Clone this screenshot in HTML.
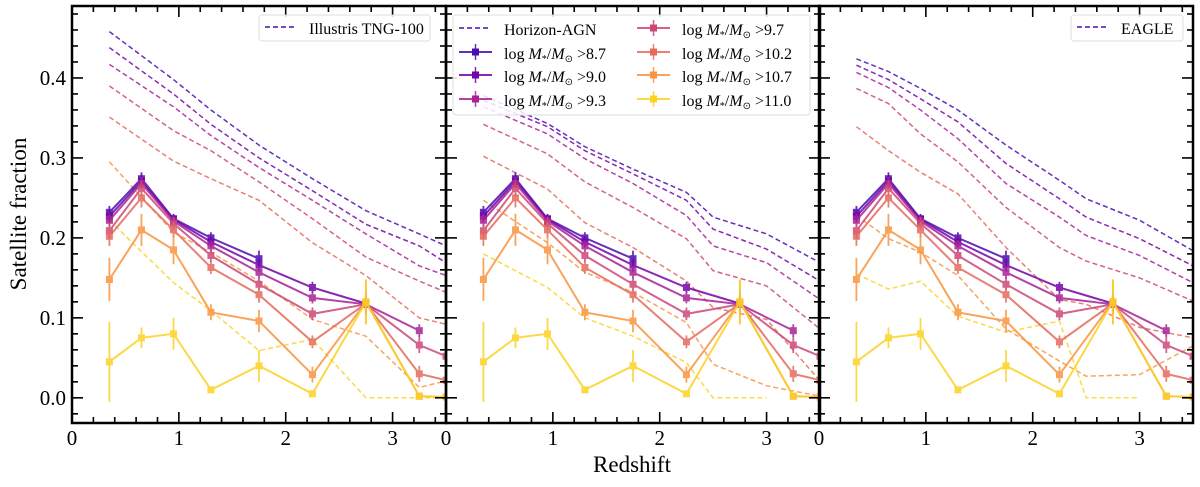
<!DOCTYPE html>
<html><head><meta charset="utf-8">
<style>
body{margin:0;background:#fff;}
svg text{font-family:"Liberation Serif",serif;fill:#000;}
</style></head>
<body>
<svg id="chart" width="1200" height="482" xmlns="http://www.w3.org/2000/svg"></svg>
<script>
// ---------- data ----------
const obsX = [0.35, 0.65, 0.95, 1.3, 1.75, 2.25, 2.75, 3.25, 3.5];
const massLabels = ["8.7","9.0","9.3","9.7","10.2","10.7","11.0"];
const obs87  = [0.232,0.274,0.224,0.200,0.174];
const obs90  = [0.227,0.271,0.223,0.195,0.166,0.138,0.118];
const obs93  = [0.222,0.268,0.221,0.190,0.157,0.125,0.117,0.084];
const obs97  = [0.209,0.262,0.218,0.178,0.142,0.105,0.117,0.066,0.052];
const obs102 = [0.202,0.250,0.210,0.163,0.129,0.070,0.118,0.030,0.022];
const obs107 = [0.148,0.210,0.185,0.107,0.096,0.029,0.120,0.002,0.001];
const obs110 = [0.045,0.075,0.080,0.010,0.040,0.005,0.120,0.002,0.001];
const err87  = [0.008,0.008,0.006,0.007,0.010];
const err90  = [0.008,0.008,0.006,0.007,0.008,0.007,0.010];
const err93  = [0.008,0.008,0.006,0.007,0.008,0.007,0.010,0.008];
const err97  = [0.010,0.010,0.008,0.008,0.008,0.008,0.012,0.010,0];
const err102 = [0.012,0.012,0.010,0.008,0.010,0.008,0.015,0.010,0];
const err107 = [0.027,0.020,0.018,0.010,0.014,0.010,0.028,0.004,0];
const err110 = [0.050,0.013,0.020,0.004,0.020,0.004,0.028,0.004,0];

const tngX = [0.35, 0.95, 1.3, 1.75, 2.25, 2.75, 3.25, 3.5];
const tng87  = [0.458,0.398,0.360,0.316,0.274,0.234,0.205,0.190];
const tng90  = [0.438,0.380,0.342,0.300,0.259,0.217,0.190,0.169];
const tng93  = [0.417,0.364,0.328,0.288,0.247,0.205,0.165,0.153];
const tng97  = [0.390,0.334,0.309,0.270,0.224,0.176,0.146,0.132];
const tng102 = [0.351,0.296,0.274,0.247,0.194,0.153,0.100,0.092];
const tng107 = [0.295,0.207,0.182,0.146,0.098,0.077,0.013,0.021];
const tng110 = [0.222,0.144,0.109,0.059,0.073,0.000,0.000,0.000];

const hzX = [0.35, 0.95, 1.3, 1.75, 2.25, 2.5, 3.0, 3.5];
const hz87  = [0.378,0.343,0.314,0.286,0.257,0.226,0.205,0.169];
const hz90  = [0.372,0.339,0.309,0.280,0.247,0.211,0.186,0.146];
const hz93  = [0.364,0.330,0.299,0.268,0.228,0.190,0.169,0.123];
const hz97  = [0.342,0.305,0.270,0.238,0.199,0.159,0.140,0.086];
const hz102 = [0.302,0.261,0.219,0.188,0.146,0.113,0.098,0.021];
const hz107 = [0.247,0.194,0.157,0.132,0.094,0.042,0.015,0.002];
const hz110 = [0.180,0.138,0.100,0.077,0.044,0.000,0.000];

const egX = [0.35, 0.65, 0.95, 1.3, 1.75, 2.25, 2.5, 3.0, 3.5];
const eg87  = [0.424,0.408,0.387,0.360,0.316,0.272,0.249,0.222,0.184];
const eg90  = [0.416,0.398,0.374,0.345,0.293,0.249,0.226,0.199,0.165];
const eg93  = [0.407,0.388,0.360,0.324,0.268,0.226,0.203,0.178,0.144];
const eg97  = [0.387,0.368,0.330,0.295,0.238,0.188,0.171,0.150,0.121];
const eg102 = [0.339,0.309,0.282,0.255,0.188,0.123,0.117,0.088,0.075];
const eg107 = [0.228,0.199,0.182,0.153,0.086,0.046,0.027,0.029,0.065];
const eg110 = [0.155,0.136,0.146,0.102,0.082,0.096,0.000,0.000];

const xTicks = [0,1,2,3];
const yTicks = [0.0,0.1,0.2,0.3,0.4];
const yTickLabels = ["0.0","0.1","0.2","0.3","0.4"];
const simNames = ["Illustris TNG-100","Horizon-AGN","EAGLE"];

// ---------- layout ----------
const colors = ["#4a0cb0","#7403a8","#a82296","#cc4778","#e56b5d","#f89540","#fcd225"];
const panelLeft = [72, 446, 819];
const PW = 374, TOP = 6, BOT = 423;
const XMAX = 3.5, YMIN = -0.0315, YMAX = 0.49;
const svg = document.getElementById('chart');
const NS = "http://www.w3.org/2000/svg";
function mk(tag, attrs, parent){const e=document.createElementNS(NS,tag);for(const k in attrs)e.setAttribute(k,attrs[k]);(parent||svg).appendChild(e);return e;}
function xs(p,v){return panelLeft[p] + v/XMAX*PW;}
function ys(v){return BOT - (v-YMIN)/(YMAX-YMIN)*(BOT-TOP);}

const obsSeries=[obs87,obs90,obs93,obs97,obs102,obs107,obs110];
const errSeries=[err87,err90,err93,err97,err102,err107,err110];
const sims=[
 {x:tngX, s:[tng87,tng90,tng93,tng97,tng102,tng107,tng110]},
 {x:hzX, s:[hz87,hz90,hz93,hz97,hz102,hz107,hz110]},
 {x:egX, s:[eg87,eg90,eg93,eg97,eg102,eg107,eg110]}];

for(let p=0;p<3;p++){
  const g=mk('g',{});
  
  
  const cid='clip'+p;
  const cp=mk('clipPath',{id:cid},g);
  mk('rect',{x:panelLeft[p],y:TOP,width:PW,height:BOT-TOP},cp);
  const plot=mk('g',{'clip-path':'url(#'+cid+')'},g);
  sims[p].s.forEach((vals,i)=>{
    const pts=vals.map((v,j)=>xs(p,sims[p].x[j]).toFixed(1)+','+ys(v).toFixed(1)).join(' ');
    const l=mk('polyline',{points:pts,fill:'none',stroke:colors[i],'stroke-width':1.5,'stroke-dasharray':'5,3','stroke-opacity':0.85},plot);
    
    
  });
  obsSeries.forEach((vals,i)=>{
    const sg=mk('g',{opacity:0.85},plot);
    
    
    const pts=vals.map((v,j)=>xs(p,obsX[j]).toFixed(1)+','+ys(v).toFixed(1)).join(' ');
    mk('polyline',{points:pts,fill:'none',stroke:colors[i],'stroke-width':2},sg);
    vals.forEach((v,j)=>{
      const x=xs(p,obsX[j]), e=errSeries[i][j];
      if(e>0) mk('line',{x1:x,x2:x,y1:ys(v-e),y2:ys(v+e),stroke:colors[i],'stroke-width':1.8},sg);
      const m=mk('rect',{x:x-3.5,y:ys(v)-3.5,width:7,height:7,fill:colors[i]},sg);
      
      
    });
  });
  const tg=mk('g',{stroke:'#000','stroke-width':1.6},g);
  const L=panelLeft[p], R=L+PW;
  for(let k=0;k<=17;k++){
    const v=k*0.2; if(v>XMAX+1e-6) break;
    const x=xs(p,v), major=Math.abs(v-Math.round(v))<1e-6, len=major?11:6;
    mk('line',{x1:x,x2:x,y1:BOT,y2:BOT-len},tg);
    mk('line',{x1:x,x2:x,y1:TOP,y2:TOP+len},tg);
  }
  for(let k=-1;k<=24;k++){
    const v=k*0.02; if(v<YMIN||v>YMAX) continue;
    const y=ys(v), major=(k%5===0), len=major?11:6;
    mk('line',{x1:L,x2:L+len,y1:y,y2:y},tg);
    mk('line',{x1:R,x2:R-len,y1:y,y2:y},tg);
  }
  const sp=mk('rect',{x:L,y:TOP,width:PW,height:BOT-TOP,fill:'none',stroke:'#000','stroke-width':2.5},g);
  
  
  xTicks.forEach(t=>{
    const tx=mk('text',{x:xs(p,t),y:BOT+22,'font-size':21,'text-anchor':'middle'},g);
    tx.textContent=t;
    
    
  });
  if(p===0){
    yTicks.forEach((t,i)=>{
      const ty=mk('text',{x:L-6,y:ys(t)+7,'font-size':21,'text-anchor':'end'},g);
      ty.textContent=yTickLabels[i];
      
      
    });
  }
}

function simLegend(x,y,w,name,dn){
  const lg=mk('g',{});
  
  
  mk('rect',{x:x,y:y,width:w,height:26,rx:3,fill:'#fff','fill-opacity':0.85,stroke:'#ddd'},lg);
  mk('line',{x1:x+6,x2:x+38,y1:y+12,y2:y+12,stroke:colors[0],'stroke-width':1.5,'stroke-dasharray':'5,3'},lg);
  const t=mk('text',{x:x+50,y:y+19,'font-size':16},lg);
  t.textContent=name;
  return lg;
}
simLegend(259,15,171,simNames[0],'legend-tng');
simLegend(1071,15,112,simNames[2],'legend-eagle');

const lg2=mk('g',{});


mk('rect',{x:453,y:15,width:357,height:100,rx:3,fill:'#fff','fill-opacity':0.85,stroke:'#ddd'},lg2);
mk('line',{x1:459,x2:491,y1:28,y2:28,stroke:colors[0],'stroke-width':1.5,'stroke-dasharray':'5,3'},lg2);
const ht=mk('text',{x:504,y:35,'font-size':16},lg2);
ht.textContent=simNames[1];
const entries=[[0,459,52],[1,459,75],[2,459,99],[3,637,28],[4,637,52],[5,637,75],[6,637,99]];
entries.forEach(([i,x,y])=>{
  const eg=mk('g',{},lg2);
  
  
  mk('line',{x1:x,x2:x+33,y1:y,y2:y,stroke:colors[i],'stroke-width':2,opacity:0.85},eg);
  mk('line',{x1:x+16.5,x2:x+16.5,y1:y-8,y2:y+8,stroke:colors[i],'stroke-width':1.5,opacity:0.85},eg);
  mk('rect',{x:x+13,y:y-3.5,width:7,height:7,fill:colors[i]},eg);
  const t=mk('text',{x:x+45,y:y+7,'font-size':16},eg);
  t.innerHTML='log <tspan font-style="italic">M</tspan><tspan font-size="10" dy="3">*</tspan><tspan dy="-3">/</tspan><tspan font-style="italic">M</tspan><tspan font-size="10" dy="3">⊙</tspan><tspan dy="-3"> &gt;'+massLabels[i]+'</tspan>';
});

const xl=mk('text',{x:632,y:472,'font-size':23,'text-anchor':'middle'});
xl.textContent='Redshift';


const yl=mk('text',{x:0,y:0,'font-size':23,'text-anchor':'middle',transform:'translate(26,214) rotate(-90)'});
yl.textContent='Satellite fraction';


</script>
</body></html>
